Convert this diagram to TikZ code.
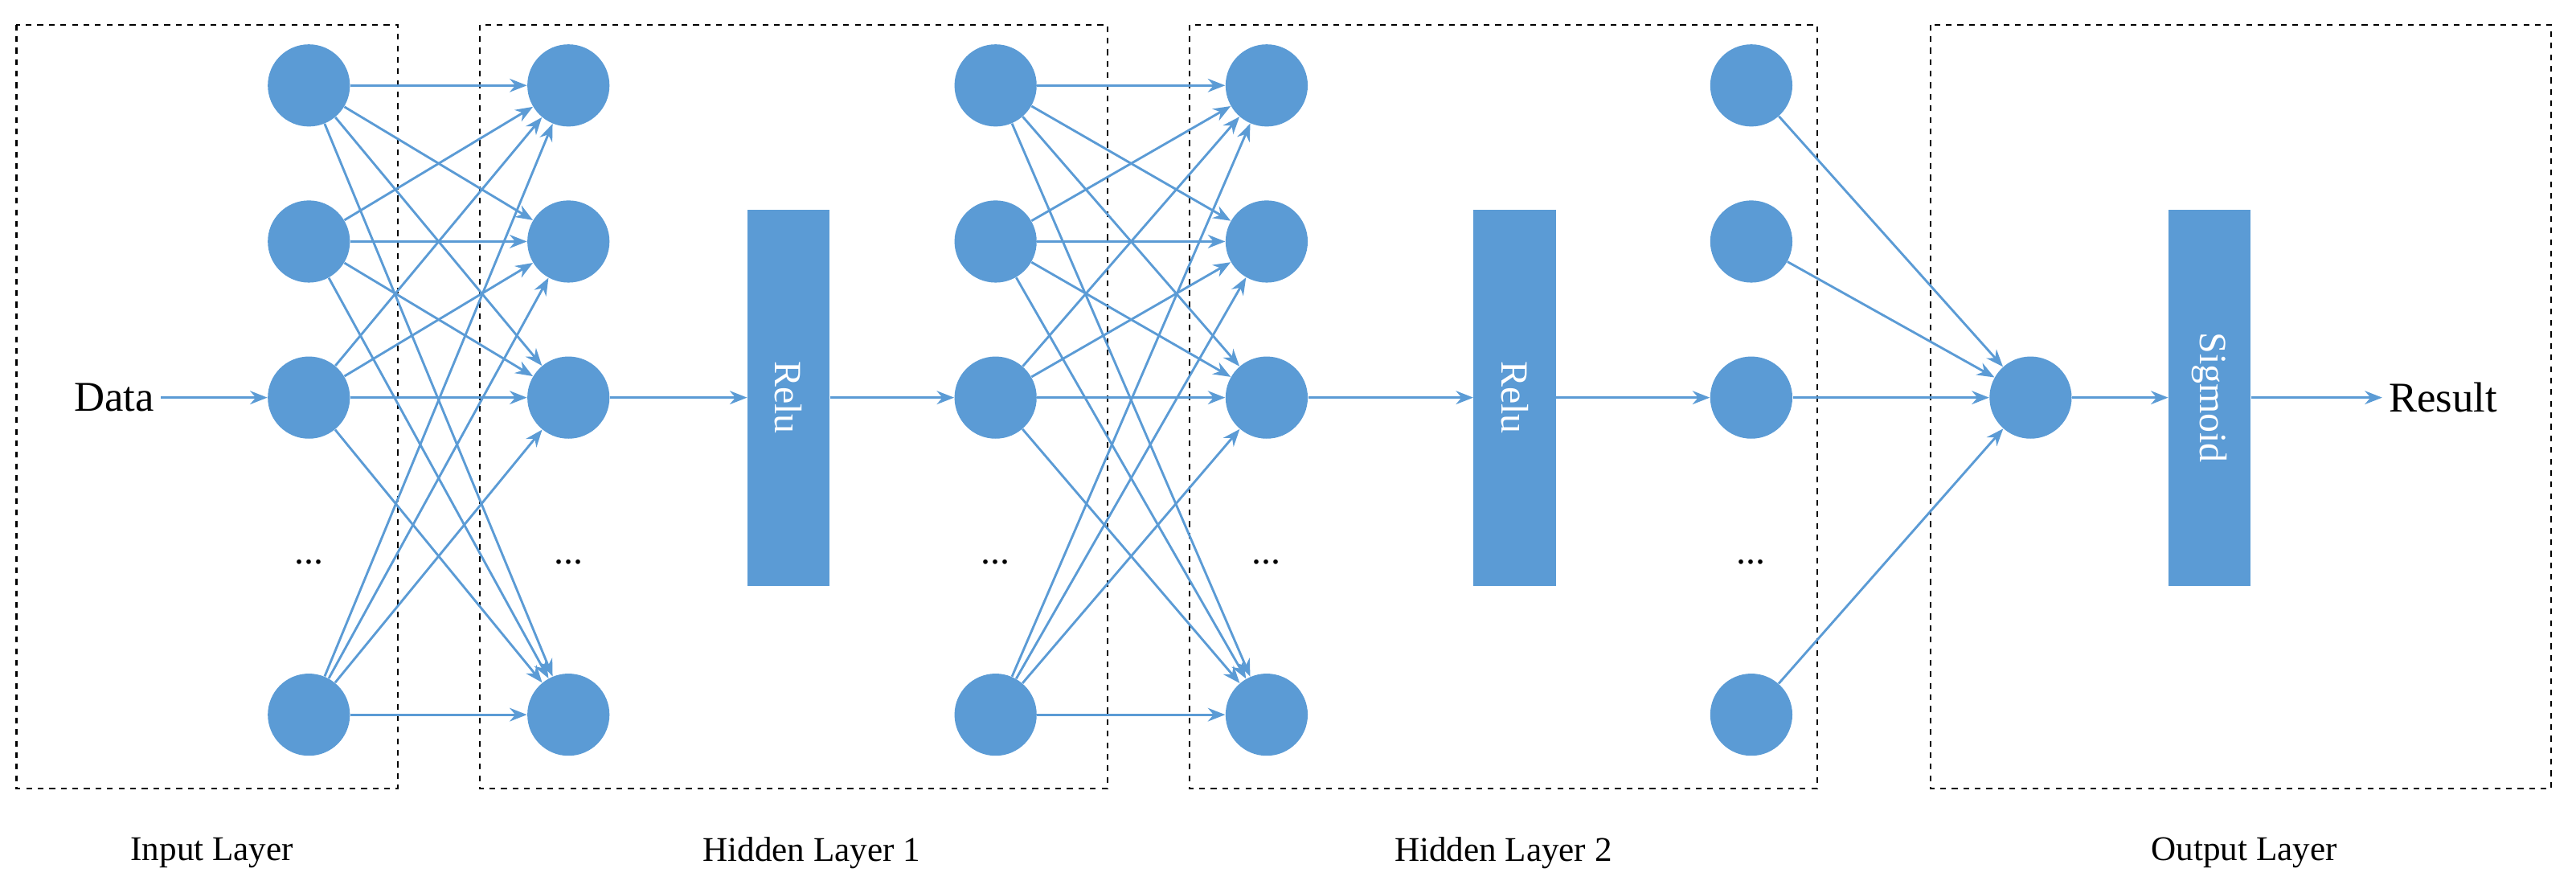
\documentclass[tikz,border=0pt]{standalone}
\usepackage{fontspec}
\setmainfont{Liberation Serif}
\usetikzlibrary{arrows.meta}
\definecolor{nb}{HTML}{5B9BD5}
\begin{document}
\begin{tikzpicture}[x=0.03cm,y=-0.03cm,
  neu/.style={circle,fill=nb,minimum size=1.5cm,inner sep=0pt},
  act/.style={fill=nb,minimum width=1.5cm,minimum height=6.87cm,inner sep=0pt,text=white,font=\fontsize{20}{24}\selectfont},
  con/.style={draw=nb,line width=1.2pt,-{Stealth[length=9pt,width=7pt]}},
  lay/.style={draw,dashed,line width=0.9pt},
  lab/.style={font=\fontsize{18}{22}\selectfont},
  dots/.style={font=\fontsize{20}{24}\selectfont}]
\useasboundingbox (0,0) rectangle (1568,541);
\draw[lay] (10,15) rectangle (242,480);
\draw[lay] (292,15) rectangle (674,480);
\draw[lay] (724,15) rectangle (1106,480);
\draw[lay] (1175,15) rectangle (1553,480);
\foreach \c/\x in {a/188,b/346,c/606,d/771,e/1066}{
  \foreach \r/\y in {1/52,2/147,3/242,5/435}{
    \node[neu] (\c\r) at (\x,\y) {};
  }
  \node[dots] (\c4) at (\x,342) {...};
}
\node[act] (r1) at (480,242) {\rotatebox{-90}{Relu}};
\node[act] (r2) at (922,242) {\rotatebox{-90}{Relu}};
\node[act] (s) at (1345,242) {\rotatebox{-90}{Sigmoid}};
\node[neu] (o) at (1236,242) {};
\node[font=\fontsize{22}{26}\selectfont,anchor=east] (data) at (98,242) {Data};
\node[font=\fontsize{22}{26}\selectfont,anchor=west] (res) at (1450,242) {Result};
\foreach \i in {1,2,3,5}{\foreach \j in {1,2,3,5}{
  \draw[con] (a\i) -- (b\j);
  \draw[con] (c\i) -- (d\j);
}}
\foreach \i in {1,2,3,5}{\draw[con] (e\i) -- (o);}
\draw[con] (data) -- (a3);
\draw[con] (b3) -- (r1);
\draw[con] (r1) -- (c3);
\draw[con] (d3) -- (r2);
\draw[con] (r2) -- (e3);
\draw[con] (o) -- (s);
\draw[con] (s) -- (res);
\node[lab] (l1) at (129,519) {Input Layer};
\node[lab] (l2) at (494,519) {Hidden Layer 1};
\node[lab] (l3) at (915,519) {Hidden Layer 2};
\node[lab] (l4) at (1366,519) {Output Layer};
\end{tikzpicture}
\end{document}
